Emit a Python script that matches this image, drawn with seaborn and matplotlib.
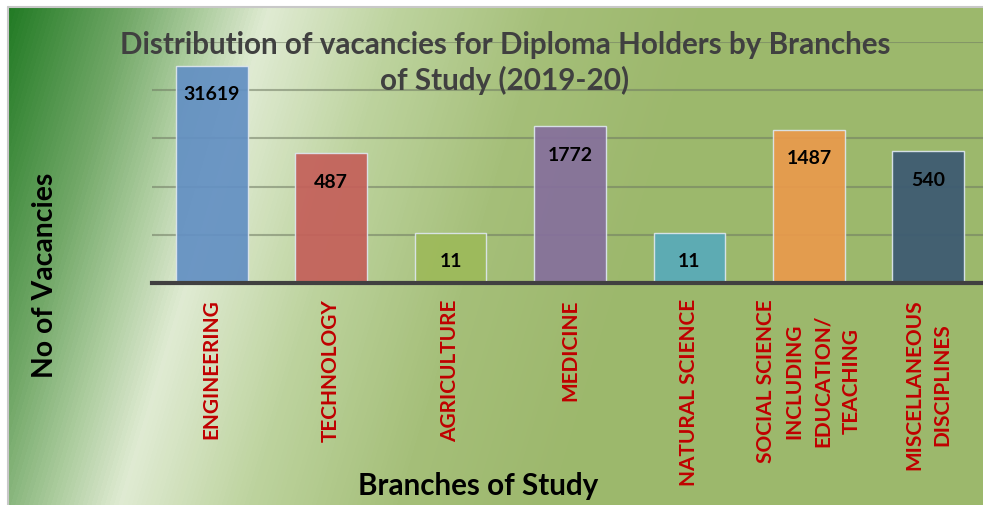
import numpy as np
import pandas as pd
import matplotlib
matplotlib.use("Agg")
import matplotlib.pyplot as plt
import seaborn as sns
from matplotlib.colors import LinearSegmentedColormap

# data
branches = ["Engineering", "Technology", "Agriculture", "Medicine",
            "Natural Science", "Social Science", "Miscellaneous"]
vacancies = [31619, 487, 11, 1772, 11, 1487, 540]
tick_labels = ["ENGINEERING", "TECHNOLOGY", "AGRICULTURE", "MEDICINE",
               "NATURAL SCIENCE", "SOCIAL SCIENCE\nINCLUDING\nEDUCATION/\nTEACHING",
               "MISCELLANEOUS\nDISCIPLINES"]
title_lines = ["Distribution of vacancies for Diploma Holders by Branches",
               "of Study (2019-20)"]

palette = ["#6390c3", "#c4605a", "#9dba5a", "#86709c",
           "#58aab9", "#e99a4c", "#3c5a72"]

df = pd.DataFrame({"branch": branches, "vacancies": vacancies})

sns.set_theme(style="white")
plt.rcParams["font.family"] = ["Lato", "DejaVu Sans"]

W, H = 983, 506
fig = plt.figure(figsize=(W / 100, H / 100), dpi=100)
fig.patch.set_facecolor("white")

# gradient background (diagonal band)
bg = fig.add_axes([7 / W, 0, 1 - 7 / W, (H - 8) / H], zorder=0)
xx, yy = np.meshgrid(np.arange(7, W), np.arange(8, H))
t = xx + 0.3 * yy
stops = [(0, "#1c771f"), (130, "#72a868"), (200, "#aacb9c"), (270, "#e0ebd3"),
         (400, "#bdd39e"), (550, "#a5bf79"), (700, "#9db86d"), (1150, "#9cb86c")]
cmap = LinearSegmentedColormap.from_list(
    "bg", [(p / 1150, c) for p, c in stops])
bg.imshow(cmap(t / 1150), aspect="auto", extent=(0, 1, 0, 1), interpolation="bilinear")
bg.set_axis_off()
fig.add_artist(plt.Line2D([7.5 / W, 7.5 / W], [0, 1 - 8 / H], color="#c8c8c8", lw=1.5))
fig.add_artist(plt.Line2D([7.5 / W, 1], [1 - 8 / H, 1 - 8 / H], color="#c8c8c8", lw=1.5))

ax = fig.add_axes([152 / W, (H - 284) / H, 836 / W, 241 / H], zorder=1)
ax.patch.set_alpha(0)
sns.barplot(data=df, x="branch", y="vacancies", hue="branch", palette=palette,
            legend=False, width=0.6, edgecolor="#dde6ee", linewidth=1,
            saturation=1, alpha=0.93, ax=ax, zorder=2)
ax.set_yscale("log")
ax.set_ylim(1, 1e5)
ax.set_xlim(-0.5, len(branches) - 0.5)
ax.set_yticks([1, 10, 100, 1000, 10000, 100000])
ax.yaxis.set_minor_locator(matplotlib.ticker.NullLocator())
ax.set_yticklabels([])
ax.tick_params(axis="y", length=0)
ax.grid(axis="y", color="#6f7a62", alpha=0.55, lw=1.5, zorder=1)
ax.set_axisbelow(True)
for s in ["left", "right", "top"]:
    ax.spines[s].set_visible(False)
ax.spines["bottom"].set_color("#404040")
ax.spines["bottom"].set_linewidth(3)
ax.spines["bottom"].set_zorder(5)

ax.set_xticks(range(len(branches)))
ax.set_xticklabels(tick_labels, rotation=90, color="#c00000",
                   fontweight="bold", fontsize=15, va="top", ha="center",
                   linespacing=1.55)
ax.tick_params(axis="x", length=0, pad=11)
ax.set_xlabel("")
ax.set_ylabel("")

for i, v in enumerate(vacancies):
    ax.annotate(str(v), (i, v), xytext=(0, -20), textcoords="offset points",
                ha="center", va="center", fontsize=14, fontweight="bold",
                color="black", zorder=6)

fig.text(505 / W, 1 - 45 / H, title_lines[0], ha="center", va="center",
         fontsize=21.3, fontweight="bold", color="#404040", zorder=3)
fig.text(505 / W, 1 - 80 / H, title_lines[1], ha="center", va="center",
         fontsize=21.3, fontweight="bold", color="#404040", zorder=3)
fig.text(478 / W, 1 - 486 / H, "Branches of Study", ha="center", va="center",
         fontsize=21.3, fontweight="bold", color="black")
fig.text(45 / W, 1 - 275 / H, "No of Vacancies", ha="center", va="center",
         rotation=90, fontsize=20.4, fontweight="bold", color="black")

fig.savefig("out.png", dpi=100)
